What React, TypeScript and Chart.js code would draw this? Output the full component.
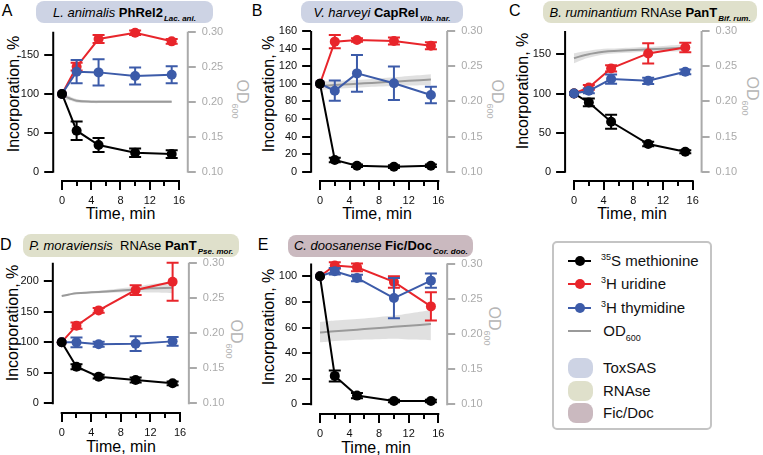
import React, { useEffect, useRef } from "react";
import { Chart, registerables } from "chart.js";

Chart.register(...registerables);

const W = 763;
const H = 455;
const FONT = "'Liberation Sans', Arial, Helvetica, sans-serif";
Chart.defaults.font.family = FONT;

// ---------- shared axes ----------
const TIME = [0, 2, 5, 10, 15];
const OD_TIME = [0, 1, 2, 4, 6, 8, 10, 12, 15];
const X_TICKS = [0, 4, 8, 12, 16];
const X_MINOR_TICKS = [0, 2, 4, 6, 8, 10, 12, 14, 16];
const OD_TICKS = [0.1, 0.15, 0.2, 0.25, 0.3];

// ---------- Panel A: L. animalis PhRel2 ----------
const A_Y_TICKS = [0, 50, 100, 150];
const A_Y_MAX = 180;
const A_MET = [100, 52.7, 34.3, 24.4, 22.7];
const A_MET_ERR = [0, 12, 9, 5.5, 5];
const A_URI = [100, 135, 170.6, 178.7, 167.6];
const A_URI_ERR = [0, 5, 5, 3, 3];
const A_THY = [100, 128.6, 127.7, 123, 124.7];
const A_THY_ERR = [0, 15, 17, 11, 11];
const A_OD = [0.209, 0.205, 0.2015, 0.2, 0.2, 0.2, 0.2, 0.2, 0.2];
const A_OD_HI = [0.214, 0.208, 0.204, 0.202, 0.202, 0.202, 0.202, 0.202, 0.202];
const A_OD_LO = [0.204, 0.202, 0.199, 0.198, 0.198, 0.198, 0.198, 0.198, 0.198];

// ---------- Panel B: V. harveyi CapRel ----------
const B_Y_TICKS = [0, 20, 40, 60, 80, 100, 120, 140, 160];
const B_Y_MAX = 160;
const B_MET = [100, 13.3, 6.8, 5.7, 6.8];
const B_MET_ERR = [0, 2.5, 1.5, 1.5, 1.5];
const B_URI = [100, 147.9, 149.8, 148.6, 143.3];
const B_URI_ERR = [0, 7.5, 2, 4, 4];
const B_THY = [100, 92.1, 111.8, 100.5, 87.2];
const B_THY_ERR = [0, 11.5, 21, 19, 9.5];
const B_OD = [0.222, 0.2226, 0.2232, 0.2244, 0.2256, 0.2268, 0.228, 0.2292, 0.231];
const B_OD_HI = [0.228, 0.2284, 0.2288, 0.2299, 0.2311, 0.2326, 0.2342, 0.236, 0.2386];
const B_OD_LO = [0.216, 0.2168, 0.2176, 0.2189, 0.2201, 0.221, 0.2218, 0.2224, 0.2234];

// ---------- Panel C: B. ruminantium RNAse PanT ----------
const C_Y_TICKS = [0, 50, 100, 150];
const C_Y_MAX = 180;
const C_MET = [100, 88.6, 63.9, 35.4, 25.6];
const C_MET_ERR = [0, 5, 9, 3, 2];
const C_URI = [100, 107.8, 132.1, 151.3, 158.9];
const C_URI_ERR = [0, 3, 4, 13, 6];
const C_THY = [100, 103.5, 118.5, 116.3, 127.8];
const C_THY_ERR = [0, 3, 6, 4, 3];
const C_OD = [0.2612, 0.2645, 0.267, 0.2706, 0.272, 0.273, 0.274, 0.2748, 0.2763];
const C_OD_HI = [0.2682, 0.2705, 0.272, 0.2746, 0.2755, 0.2765, 0.2775, 0.2788, 0.2813];
const C_OD_LO = [0.2542, 0.2585, 0.262, 0.2666, 0.2685, 0.2695, 0.2705, 0.2708, 0.2713];

// ---------- Panel D: P. moraviensis RNAse PanT ----------
const D_Y_TICKS = [0, 50, 100, 150, 200];
const D_Y_MAX = 230;
const D_MET = [100, 59.9, 43.6, 38.1, 32.7];
const D_MET_ERR = [0, 4, 3, 4, 3];
const D_URI = [100, 127, 152, 185.3, 198.9];
const D_URI_ERR = [0, 5, 4, 8, 31];
const D_THY = [100, 99.7, 96.5, 97.5, 101.3];
const D_THY_ERR = [0, 8, 4, 12, 7];
const D_OD = [0.2526, 0.2548, 0.2565, 0.2578, 0.259, 0.2605, 0.262, 0.2635, 0.2645];
const D_OD_HI = [0.2536, 0.2558, 0.2575, 0.2593, 0.261, 0.2635, 0.266, 0.2695, 0.2725];
const D_OD_LO = [0.2516, 0.2538, 0.2555, 0.2563, 0.257, 0.2575, 0.258, 0.2575, 0.2565];

// ---------- Panel E: C. doosanense Fic/Doc ----------
const E_Y_TICKS = [0, 20, 40, 60, 80, 100];
const E_Y_MAX = 110;
const E_MET = [100, 22.2, 6.8, 2.6, 2.6];
const E_MET_ERR = [0, 4.3, 2, 1, 1];
const E_URI = [100, 108.4, 107, 95.6, 76.5];
const E_URI_ERR = [0, 2.5, 3, 4.5, 11];
const E_THY = [100, 103.9, 98.7, 83, 96.6];
const E_THY_ERR = [0, 2.5, 2.5, 15.7, 5.5];
const E_OD = [0.2021, 0.2029, 0.2037, 0.2053, 0.2068, 0.2084, 0.21, 0.2116, 0.2139];
const E_OD_HI = [0.217, 0.218, 0.219, 0.2205, 0.222, 0.224, 0.226, 0.229, 0.234];
const E_OD_LO = [0.188, 0.189, 0.19, 0.191, 0.192, 0.1925, 0.193, 0.192, 0.191];

// ---------- text ----------
const SERIES_LABELS = ["S methionine", "H uridine", "H thymidine", "OD"];
const ISOTOPES = ["35", "3", "3", ""];
const FAMILY_LABELS = ["ToxSAS", "RNAse", "Fic/Doc"];
const Y_TITLE = "Incorporation, %";
const X_TITLE = "Time, min";

// ---------- styles ----------
const RED = "#e8252b";
const BLUE = "#3c5ba9";
const BLACK = "#000000";
const GREY_AXIS = "#aaaaaa";
const OD_LINE = "#9a9a9a";
const OD_BAND = "rgba(0,0,0,0.12)";
const TOXSAS = "#cdd3e4";
const RNASE = "#dfe0cb";
const FICDOC = "#cab9bf";

const X_MIN = -1.2;
const X_MAX = 17.2;
const LEFT_BOX = 45;
const RIGHT_BOX = 40;
const BOTTOM_BOX = 28;

type Geom = { x0: number; x16: number; top: number; zero: number; axis: number };
type PanelSpec = {
  key: string;
  geom: Geom;
  yMax: number;
  yTicks: number[];
  met: number[]; metErr: number[];
  uri: number[]; uriErr: number[];
  thy: number[]; thyErr: number[];
  od: number[]; odHi: number[]; odLo: number[];
  blueOnTop?: boolean;
};

const PANELS: PanelSpec[] = [
  { key: "A", geom: { x0: 62, x16: 179, top: 31.7, zero: 171.7, axis: 181 }, yMax: A_Y_MAX, yTicks: A_Y_TICKS,
    met: A_MET, metErr: A_MET_ERR, uri: A_URI, uriErr: A_URI_ERR, thy: A_THY, thyErr: A_THY_ERR, od: A_OD, odHi: A_OD_HI, odLo: A_OD_LO },
  { key: "B", geom: { x0: 320, x16: 438.3, top: 31, zero: 171.7, axis: 181 }, yMax: B_Y_MAX, yTicks: B_Y_TICKS,
    met: B_MET, metErr: B_MET_ERR, uri: B_URI, uriErr: B_URI_ERR, thy: B_THY, thyErr: B_THY_ERR, od: B_OD, odHi: B_OD_HI, odLo: B_OD_LO },
  { key: "C", geom: { x0: 574, x16: 692.7, top: 31, zero: 171.7, axis: 181 }, yMax: C_Y_MAX, yTicks: C_Y_TICKS,
    met: C_MET, metErr: C_MET_ERR, uri: C_URI, uriErr: C_URI_ERR, thy: C_THY, thyErr: C_THY_ERR, od: C_OD, odHi: C_OD_HI, odLo: C_OD_LO, blueOnTop: true },
  { key: "D", geom: { x0: 61.7, x16: 180, top: 262.7, zero: 403.3, axis: 413 }, yMax: D_Y_MAX, yTicks: D_Y_TICKS,
    met: D_MET, metErr: D_MET_ERR, uri: D_URI, uriErr: D_URI_ERR, thy: D_THY, thyErr: D_THY_ERR, od: D_OD, odHi: D_OD_HI, odLo: D_OD_LO },
  { key: "E", geom: { x0: 320, x16: 438.3, top: 263.5, zero: 404.3, axis: 414 }, yMax: E_Y_MAX, yTicks: E_Y_TICKS,
    met: E_MET, metErr: E_MET_ERR, uri: E_URI, uriErr: E_URI_ERR, thy: E_THY, thyErr: E_THY_ERR, od: E_OD, odHi: E_OD_HI, odLo: E_OD_LO },
];

const errorBarPlugin = {
  id: "errorBars",
  afterDatasetDraw(chart: any, args: any) {
    const ds = chart.data.datasets[args.index];
    if (!ds.errors) return;
    const meta = args.meta;
    const xs = chart.scales[meta.xAxisID];
    const ys = chart.scales[meta.yAxisID];
    const ctx = chart.ctx;
    ctx.save();
    ctx.strokeStyle = ds.borderColor;
    ctx.lineWidth = 2;
    ds.data.forEach((pt: any, i: number) => {
      const e = ds.errors[i];
      if (!e) return;
      const x = xs.getPixelForValue(pt.x);
      const yt = ys.getPixelForValue(pt.y + e);
      const yb = ys.getPixelForValue(pt.y - e);
      ctx.beginPath();
      ctx.moveTo(x, yt);
      ctx.lineTo(x, yb);
      ctx.moveTo(x - 6, yt);
      ctx.lineTo(x + 6, yt);
      ctx.moveTo(x - 6, yb);
      ctx.lineTo(x + 6, yb);
      ctx.stroke();
    });
    ctx.restore();
  },
};

function PanelChart({ p }: { p: PanelSpec }) {
  const ref = useRef<HTMLCanvasElement | null>(null);
  useEffect(() => {
    const canvas = ref.current;
    if (!canvas) return;
    const g = p.geom;
    const xppu = (g.x16 - g.x0) / 16;
    const left = g.x0 + X_MIN * xppu;
    const right = g.x0 + X_MAX * xppu;
    const yppu = (g.zero - g.top) / p.yMax;
    const yMin = -(g.axis - g.zero) / yppu;
    const odLow = OD_TICKS[0];
    const odHigh = OD_TICKS[OD_TICKS.length - 1];
    const y1ppu = (g.zero - g.top) / (odHigh - odLow);
    const y1Min = odLow - (g.axis - g.zero) / y1ppu;

    const pts = (xs: number[], ys: number[]) => xs.map((x, i) => ({ x, y: ys[i] }));
    const series = (label: string, color: string, ys: number[], errs: number[], order: number) => ({
      type: "line",
      label,
      data: pts(TIME, ys),
      errors: errs,
      borderColor: color,
      backgroundColor: color,
      pointBackgroundColor: color,
      pointBorderColor: color,
      pointRadius: 5,
      pointBorderWidth: 0,
      borderWidth: 2,
      tension: 0,
      fill: false,
      clip: false,
      order,
      xAxisID: "x",
      yAxisID: "y",
    });

    const spines = {
      id: "spines",
      beforeDatasetsDraw(chart: any) {
        const { ctx, chartArea: a, scales } = chart;
        ctx.save();
        ctx.lineWidth = 2;
        ctx.strokeStyle = BLACK;
        ctx.beginPath();
        ctx.moveTo(a.left, scales.y.getPixelForValue(0) + 1);
        ctx.lineTo(a.left, scales.y.getPixelForValue(p.yMax));
        ctx.moveTo(scales.x.getPixelForValue(X_TICKS[0]) - 1, a.bottom);
        ctx.lineTo(scales.x.getPixelForValue(X_TICKS[X_TICKS.length - 1]) + 1, a.bottom);
        ctx.stroke();
        ctx.strokeStyle = GREY_AXIS;
        ctx.beginPath();
        ctx.moveTo(a.right, scales.y1.getPixelForValue(odLow) + 1);
        ctx.lineTo(a.right, scales.y1.getPixelForValue(odHigh));
        ctx.stroke();
        ctx.restore();
      },
    };

    const tickFont = { size: 11, family: FONT };
    const chart = new Chart(canvas, {
      type: "line",
      data: {
        datasets: [
          series("35S methionine", BLACK, p.met, p.metErr, p.blueOnTop ? 3 : 2),
          series("3H uridine", RED, p.uri, p.uriErr, 4),
          series("3H thymidine", BLUE, p.thy, p.thyErr, p.blueOnTop ? 1 : 3),
          { type: "line", label: "OD600", data: pts(OD_TIME, p.od), yAxisID: "y1", xAxisID: "x",
            borderColor: OD_LINE, borderWidth: 2, pointRadius: 0, tension: 0.4, fill: false, order: 9 },
          { type: "line", label: "OD hi", data: pts(OD_TIME, p.odHi), yAxisID: "y1", xAxisID: "x",
            borderWidth: 0, borderColor: "rgba(0,0,0,0)", pointRadius: 0, tension: 0.4, fill: "+1", backgroundColor: OD_BAND, order: 10 },
          { type: "line", label: "OD lo", data: pts(OD_TIME, p.odLo), yAxisID: "y1", xAxisID: "x",
            borderWidth: 0, borderColor: "rgba(0,0,0,0)", pointRadius: 0, tension: 0.4, fill: false, order: 10 },
        ] as any,
      },
      options: {
        responsive: false,
        animation: false,
        devicePixelRatio: 1,
        events: [],
        layout: { padding: { left: left - LEFT_BOX, right: W - right - RIGHT_BOX, top: g.top, bottom: H - g.axis - BOTTOM_BOX } },
        plugins: { legend: { display: false }, tooltip: { enabled: false }, title: { display: false } },
        scales: {
          x: {
            type: "linear", position: "bottom", weight: 1, min: X_MIN, max: X_MAX,
            afterFit: (s: any) => { s.height = BOTTOM_BOX; },
            afterBuildTicks: (s: any) => { s.ticks = X_TICKS.map((v) => ({ value: v })); },
            border: { display: false },
            grid: { drawOnChartArea: false, drawTicks: true, tickLength: 9, lineWidth: 2, tickWidth: 2, tickColor: BLACK, color: BLACK },
            ticks: { color: "#111", font: tickFont, padding: 4, maxRotation: 0, autoSkip: false },
          },
          x2: {
            type: "linear", axis: "x", position: "bottom", weight: -1, min: X_MIN, max: X_MAX,
            afterFit: (s: any) => { s.height = 0; },
            afterBuildTicks: (s: any) => { s.ticks = X_MINOR_TICKS.map((v) => ({ value: v })); },
            border: { display: false },
            grid: { drawOnChartArea: false, drawTicks: true, tickLength: 5, lineWidth: 2, tickWidth: 2, tickColor: BLACK, color: BLACK },
            ticks: { display: false, autoSkip: false },
          },
          y: {
            type: "linear", position: "left", min: yMin, max: p.yMax,
            afterFit: (s: any) => { s.width = LEFT_BOX; },
            afterBuildTicks: (s: any) => { s.ticks = p.yTicks.map((v) => ({ value: v })); },
            border: { display: false },
            grid: { drawOnChartArea: false, drawTicks: true, tickLength: 9, lineWidth: 2, tickWidth: 2, tickColor: BLACK, color: BLACK },
            ticks: { color: "#111", font: tickFont, padding: 5, autoSkip: false },
          },
          y1: {
            type: "linear", position: "right", min: y1Min, max: odHigh,
            afterFit: (s: any) => { s.width = RIGHT_BOX; },
            afterBuildTicks: (s: any) => { s.ticks = OD_TICKS.map((v) => ({ value: v })); },
            border: { display: false },
            grid: { drawOnChartArea: false, drawTicks: true, tickLength: 8, lineWidth: 2, tickWidth: 2, tickColor: GREY_AXIS, color: GREY_AXIS },
            ticks: { color: GREY_AXIS, font: tickFont, padding: 6, autoSkip: false, callback: (v: any) => Number(v).toFixed(2) },
          },
        },
      } as any,
      plugins: [spines, errorBarPlugin],
    });
    return () => chart.destroy();
  }, [p]);
  return (
    <canvas ref={ref} width={W} height={H}
      style={{ position: "absolute", left: 0, top: 0, width: W, height: H, pointerEvents: "none" }} />
  );
}

// ---------- HTML text overlays ----------
const Sub = ({ children }: { children: React.ReactNode }) => (
  <span style={{ fontSize: 8, fontWeight: 700, fontStyle: "italic", position: "relative", top: 4, marginLeft: 1 }}>{children}</span>
);

type TitleSpec = { left: number; top: number; width: number; height: number; bg: string; species: string; family: string; gap: string; protein: string; sub: string };
const TITLES: TitleSpec[] = [
  { left: 36, top: 1, width: 177, height: 22, bg: TOXSAS, species: "L. animalis", family: "", gap: "", protein: "PhRel2", sub: "Lac. ani." },
  { left: 300.7, top: 1, width: 162.6, height: 22, bg: TOXSAS, species: "V. harveyi", family: "", gap: "", protein: "CapRel", sub: "Vib. har." },
  { left: 543.3, top: 1, width: 213.7, height: 22, bg: RNASE, species: "B. ruminantium", family: "RNAse", gap: " ", protein: "PanT", sub: "Bif. rum." },
  { left: 23.3, top: 234, width: 216, height: 22.7, bg: RNASE, species: "P. moraviensis", family: "RNAse", gap: "\u00a0 ", protein: "PanT", sub: "Pse. mor." },
  { left: 288.3, top: 235, width: 185, height: 21.7, bg: FICDOC, species: "C. doosanense", family: "", gap: "", protein: "Fic/Doc", sub: "Cor. doo." },
];

const LETTERS = [
  { t: "A", x: 1.7, base: 16.7 },
  { t: "B", x: 251.7, base: 16.7 },
  { t: "C", x: 509, base: 16.7 },
  { t: "D", x: 0, base: 250 },
  { t: "E", x: 257.7, base: 250 },
];

const Y_TITLE_POS = [ { x: 14, y: 94 }, { x: 269, y: 94 }, { x: 522.5, y: 91 }, { x: 12.5, y: 322.5 }, { x: 269, y: 327 } ];
const X_TITLE_POS = [ { x: 120.5, y: 214 }, { x: 377, y: 214 }, { x: 632, y: 214 }, { x: 121, y: 446.5 }, { x: 376, y: 447.5 } ];
const OD_TITLE_POS = [ { x: 241, y: 99 }, { x: 496, y: 99 }, { x: 751, y: 96 }, { x: 234.5, y: 339 }, { x: 493, y: 326 } ];

function Overlays() {
  return (
    <>
      {LETTERS.map((l) => (
        <div key={l.t} style={{ position: "absolute", left: l.x, top: l.base - 13.5, fontSize: 16, lineHeight: "16px", fontFamily: FONT }}>{l.t}</div>
      ))}
      {TITLES.map((t, i) => (
        <div key={i} style={{ position: "absolute", left: t.left, top: t.top, width: t.width, height: t.height, background: t.bg,
          borderRadius: 8, display: "flex", alignItems: "center", justifyContent: "center", fontSize: 13, whiteSpace: "pre",
          fontFamily: FONT, color: "#000" }}>
          <span><i>{t.species}</i>{t.family ? t.gap + t.family : ""} <b>{t.protein}</b><Sub>{t.sub}</Sub></span>
        </div>
      ))}
      {Y_TITLE_POS.map((q, i) => (
        <div key={"y" + i} style={{ position: "absolute", left: q.x, top: q.y, transform: "translate(-50%, -50%) rotate(-90deg)",
          fontSize: 16, lineHeight: "16px", whiteSpace: "nowrap", fontFamily: FONT, color: "#000" }}>{Y_TITLE}</div>
      ))}
      {X_TITLE_POS.map((q, i) => (
        <div key={"x" + i} style={{ position: "absolute", left: q.x, top: q.y, transform: "translate(-50%, -50%)",
          fontSize: 16, lineHeight: "16px", whiteSpace: "nowrap", fontFamily: FONT, color: "#000" }}>{X_TITLE}</div>
      ))}
      {OD_TITLE_POS.map((q, i) => (
        <div key={"o" + i} style={{ position: "absolute", left: q.x, top: q.y, transform: "translate(-50%, -50%) rotate(90deg)",
          fontSize: 16, lineHeight: "16px", whiteSpace: "nowrap", fontFamily: FONT, color: "#b5b5b5" }}>
          OD<span style={{ fontSize: 9, position: "relative", top: 5 }}>600</span>
        </div>
      ))}
    </>
  );
}

function Legend() {
  const rows = [261, 284.3, 307.5, 330.7];
  const colors = [BLACK, RED, BLUE, OD_LINE];
  const swatchTops = [358.3, 381, 403.3];
  const swatchColors = [TOXSAS, RNASE, FICDOC];
  return (
    <>
      <div style={{ position: "absolute", left: 551.7, top: 241, width: 160, height: 189, boxSizing: "border-box",
        border: "2px solid #c4c4c4", borderRadius: 5 }} />
      {rows.map((y, i) => (
        <React.Fragment key={i}>
          <div style={{ position: "absolute", left: 568, top: y - 1, width: 23, height: 2, background: colors[i] }} />
          {i < 3 ? (
            <div style={{ position: "absolute", left: 574.5, top: y - 5, width: 10, height: 10, borderRadius: 5, background: colors[i] }} />
          ) : null}
          <div style={{ position: "absolute", left: i < 3 ? 601 : 603.3, top: y - 9, height: 18, lineHeight: "18px", fontSize: 15,
            whiteSpace: "nowrap", fontFamily: FONT, color: "#111" }}>
            {ISOTOPES[i] ? <span style={{ fontSize: 9, position: "relative", top: -6 }}>{ISOTOPES[i]}</span> : null}
            {SERIES_LABELS[i]}
            {i === 3 ? <span style={{ fontSize: 9, position: "relative", top: 5 }}>600</span> : null}
          </div>
        </React.Fragment>
      ))}
      {swatchTops.map((t, i) => (
        <React.Fragment key={"s" + i}>
          <div style={{ position: "absolute", left: 568.3, top: t, width: 24.4, height: 19.5, borderRadius: 8, background: swatchColors[i] }} />
          <div style={{ position: "absolute", left: 603, top: t + 0.5, height: 18, lineHeight: "18px", fontSize: 15,
            whiteSpace: "nowrap", fontFamily: FONT, color: "#111" }}>{FAMILY_LABELS[i]}</div>
        </React.Fragment>
      ))}
    </>
  );
}

export default function App() {
  return (
    <div style={{ position: "absolute", left: 0, top: 0, width: W, height: H, background: "#fff", overflow: "hidden", fontFamily: FONT }}>
      <Overlays />
      <Legend />
      {PANELS.map((p) => (
        <PanelChart key={p.key} p={p} />
      ))}
    </div>
  );
}
